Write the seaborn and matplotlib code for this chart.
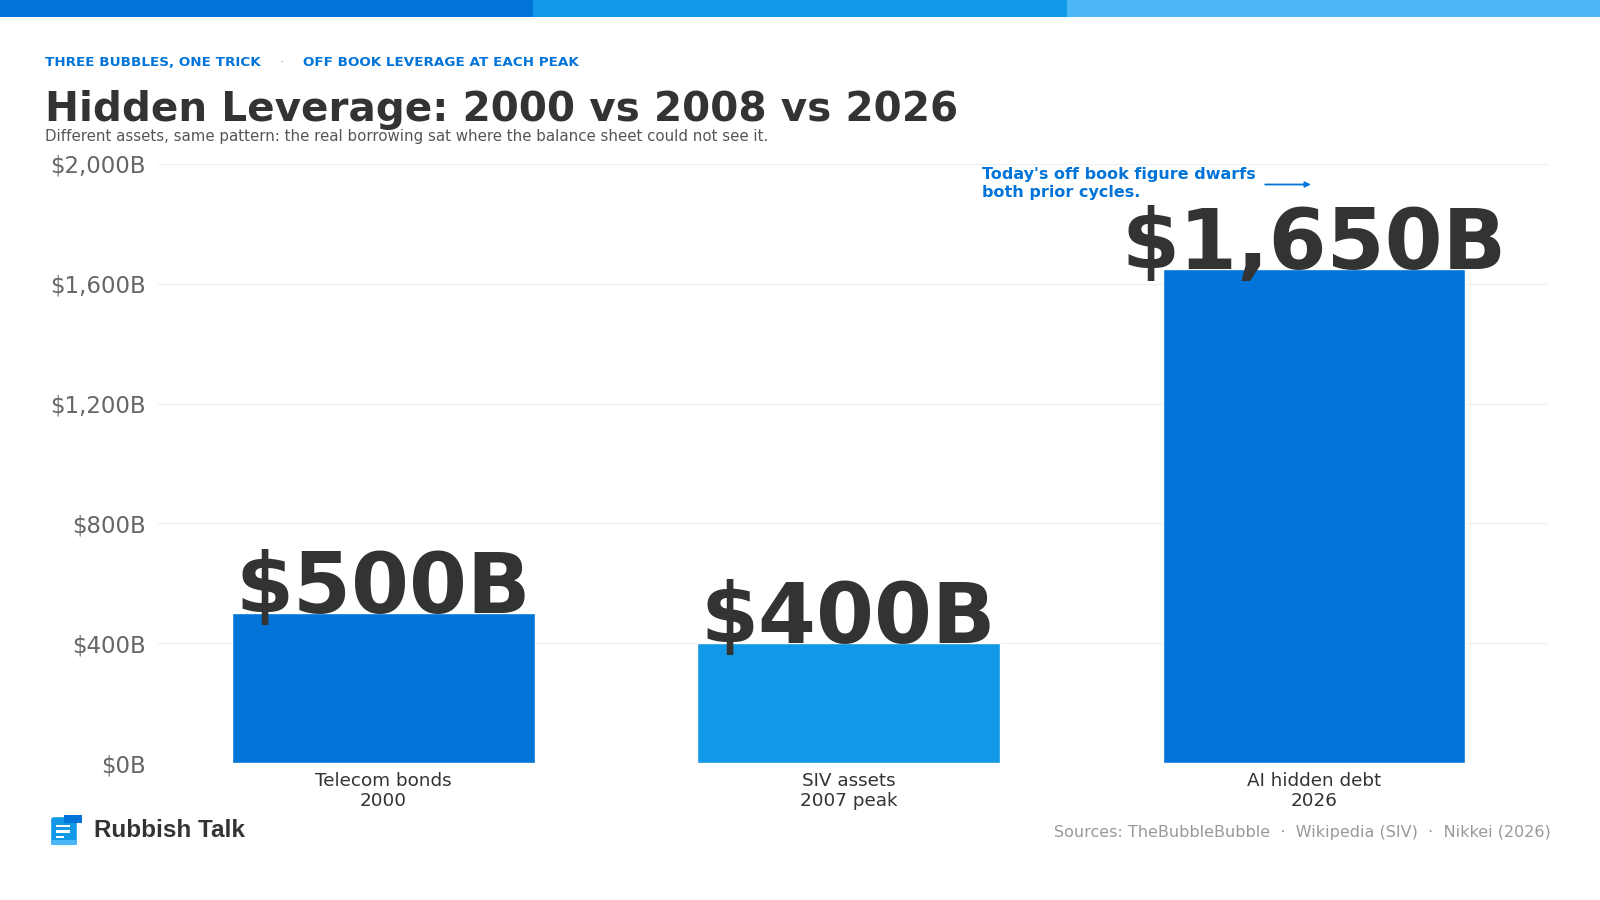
import matplotlib
matplotlib.use("Agg")
import matplotlib.pyplot as plt
import seaborn as sns
import pandas as pd
from matplotlib.patches import Rectangle, FancyBboxPatch

# data
categories = ["Telecom bonds\n2000", "SIV assets\n2007 peak", "AI hidden debt\n2026"]
values = [500, 400, 1650]
value_labels = ["$500B", "$400B", "$1,650B"]
yticks = [0, 400, 800, 1200, 1600, 2000]
ytick_labels = ["$0B", "$400B", "$800B", "$1,200B", "$1,600B", "$2,000B"]

BLUE = "#0074D9"
MID = "#1198E6"
LIGHT = "#4DB6F7"
DARK = "#333333"
bar_colors = [BLUE, MID, BLUE]

sns.set_theme(style="white")
plt.rcParams['font.family'] = ['DejaVu Sans']

df = pd.DataFrame({"cat": categories, "val": values})

fig = plt.figure(figsize=(16, 9), dpi=100)
ax = fig.add_axes([0.0988, 0.152, 0.8687, 0.666])

sns.barplot(data=df, x="cat", y="val", hue="cat", palette=bar_colors,
            saturation=1, width=0.65, legend=False, ax=ax)

ax.set_xlim(-0.484, 2.503)
ax.set_ylim(0, 2000)
ax.set_yticks(yticks)
ax.set_yticklabels(ytick_labels)
ax.set_xlabel("")
ax.set_ylabel("")
for s in ax.spines.values():
    s.set_visible(False)
ax.grid(axis="y", color="#f0f0f0", linewidth=1)
ax.set_axisbelow(True)
ax.tick_params(axis="y", labelsize=16.5, labelcolor="#666666", length=0, pad=9)
ax.tick_params(axis="x", labelsize=13.2, labelcolor=DARK, length=0, pad=6)

# big value labels
for i, (v, lab) in enumerate(zip(values, value_labels)):
    ax.text(i, v, lab, ha="center", va="baseline", fontsize=60,
            fontweight="bold", color=DARK)

# top stripe
for k, c in enumerate([BLUE, MID, LIGHT]):
    fig.add_artist(Rectangle((k / 3, 0.981), 1 / 3, 0.019, transform=fig.transFigure,
                             color=c, lw=0))

# header
fig.text(0.028, 0.931, "THREE BUBBLES, ONE TRICK", fontsize=9.7, fontweight="bold",
         color=BLUE, va="center")
fig.text(0.1745, 0.931, "·", fontsize=9.7, color="#999999", va="center")
fig.text(0.1895, 0.931, "OFF BOOK LEVERAGE AT EACH PEAK", fontsize=9.7, fontweight="bold",
         color=BLUE, va="center")
fig.text(0.028, 0.865, "Hidden Leverage: 2000 vs 2008 vs 2026", fontsize=29.2,
         fontweight="bold", color=DARK, va="baseline")
fig.text(0.028, 0.843,
         "Different assets, same pattern: the real borrowing sat where the balance sheet could not see it.",
         fontsize=10.8, color="#555555", va="baseline")

# annotation
fig.text(0.614, 0.815, "Today's off book figure dwarfs\nboth prior cycles.", fontsize=11.5,
         fontweight="bold", color=BLUE, va="top", linespacing=1.3)
ax.annotate("", xy=(0.821, 0.795), xytext=(0.789, 0.795), xycoords="figure fraction",
            textcoords="figure fraction",
            arrowprops=dict(arrowstyle="-|>", color=BLUE, lw=1.3, mutation_scale=8))

# footer logo
fig.add_artist(FancyBboxPatch((0.032, 0.061), 0.016, 0.031, boxstyle="round,pad=0,rounding_size=0.002",
                              transform=fig.transFigure, color=MID, lw=0))
fig.add_artist(Rectangle((0.040, 0.086), 0.011, 0.008, transform=fig.transFigure, color=BLUE, lw=0))
fig.add_artist(Rectangle((0.032, 0.061), 0.016, 0.006, transform=fig.transFigure, color=LIGHT, lw=0))
for yy, ww in [(0.081, 0.009), (0.075, 0.009), (0.069, 0.005)]:
    fig.add_artist(Rectangle((0.035, yy), ww, 0.0025, transform=fig.transFigure, color="white", lw=0))
fig.text(0.059, 0.077, "Rubbish Talk", fontsize=17.5, fontweight="bold", color=DARK,
         va="center", family=["Liberation Sans", "DejaVu Sans"])
fig.text(0.969, 0.075,
         "Sources: TheBubbleBubble  ·  Wikipedia (SIV)  ·  Nikkei (2026)",
         fontsize=11.5, color="#999999", ha="right", va="center")

fig.savefig("out.png", dpi=100, facecolor="white")
